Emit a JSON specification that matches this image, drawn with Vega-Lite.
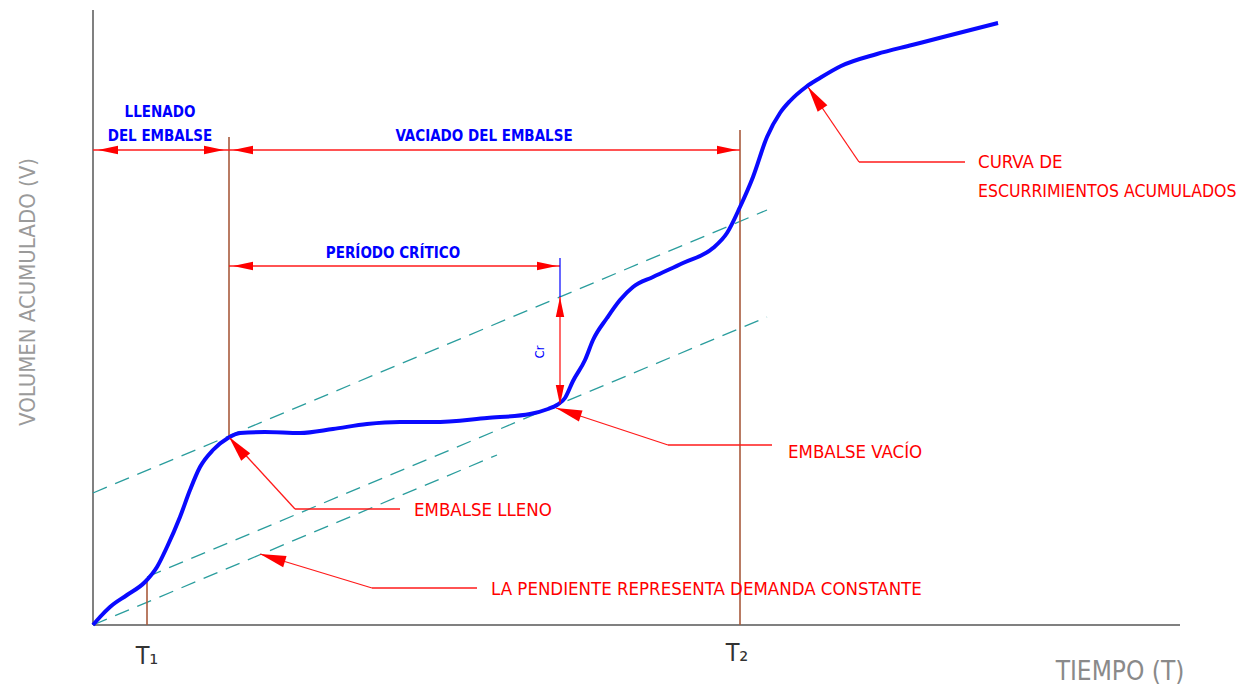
{
  "$schema": "https://vega.github.io/schema/vega-lite/v6.json",
  "width": 1249,
  "height": 692,
  "padding": 0,
  "autosize": "none",
  "background": "white",
  "config": {"view": {"stroke": null}},
  "datasets": {
    "curve": [
      {"t": 0, "v": 0}, {"t": 7, "v": 8}, {"t": 17, "v": 18}, {"t": 34, "v": 30}, {"t": 52, "v": 43},
      {"t": 64, "v": 58}, {"t": 74, "v": 78}, {"t": 87, "v": 108}, {"t": 97, "v": 135}, {"t": 107, "v": 158},
      {"t": 120, "v": 175}, {"t": 135, "v": 187}, {"t": 147, "v": 192}, {"t": 172, "v": 193}, {"t": 207, "v": 192},
      {"t": 240, "v": 196}, {"t": 274, "v": 201}, {"t": 307, "v": 203}, {"t": 340, "v": 203}, {"t": 394, "v": 207},
      {"t": 437, "v": 211}, {"t": 455, "v": 216}, {"t": 464, "v": 220}, {"t": 472, "v": 227}, {"t": 480, "v": 244},
      {"t": 492, "v": 265}, {"t": 500, "v": 285}, {"t": 514, "v": 307}, {"t": 527, "v": 325}, {"t": 540, "v": 338},
      {"t": 560, "v": 348}, {"t": 590, "v": 362}, {"t": 620, "v": 377}, {"t": 634, "v": 392}, {"t": 647, "v": 418},
      {"t": 660, "v": 448}, {"t": 674, "v": 488}, {"t": 687, "v": 512}, {"t": 697, "v": 524}, {"t": 713, "v": 538},
      {"t": 727, "v": 547}, {"t": 748, "v": 559}, {"t": 784, "v": 571}, {"t": 819, "v": 580}, {"t": 854, "v": 589},
      {"t": 905, "v": 602}
    ],
    "demand": [
      {"line": "A", "t": 0, "v": 132}, {"line": "A", "t": 674, "v": 415},
      {"line": "B", "t": 54, "v": 48}, {"line": "B", "t": 674, "v": 308},
      {"line": "C", "t": 0, "v": 0}, {"line": "C", "t": 404, "v": 170}
    ],
    "axesLines": [
      {"t": 0, "v": 0, "t2": 0, "v2": 615},
      {"t": 0, "v": 0, "t2": 1087, "v2": 0}
    ],
    "timeMarks": [
      {"t": 54, "v": 0, "t2": 54, "v2": 45},
      {"t": 136, "v": 188, "t2": 136, "v2": 488},
      {"t": 647, "v": 0, "t2": 647, "v2": 495}
    ],
    "redRules": [
      {"t": 0, "v": 475, "t2": 136, "v2": 475},
      {"t": 136, "v": 475, "t2": 647, "v2": 475},
      {"t": 136, "v": 359, "t2": 467, "v2": 359},
      {"t": 467, "v": 328, "t2": 467, "v2": 220},
      {"t": 136, "v": 188, "t2": 202, "v2": 116},
      {"t": 202, "v": 116, "t2": 307, "v2": 116},
      {"t": 167, "v": 71, "t2": 279, "v2": 37},
      {"t": 279, "v": 37, "t2": 384, "v2": 37},
      {"t": 463, "v": 217, "t2": 575, "v2": 180},
      {"t": 575, "v": 180, "t2": 679, "v2": 180},
      {"t": 715, "v": 538, "t2": 766, "v2": 463},
      {"t": 766, "v": 463, "t2": 872, "v2": 463}
    ],
    "blueRule": [
      {"t": 467, "v": 328, "t2": 467, "v2": 367}
    ],
    "dimArrows": [
      {"t": 5, "v": 475, "dir": 180}, {"t": 131, "v": 475, "dir": 0},
      {"t": 140, "v": 475, "dir": 180}, {"t": 644, "v": 475, "dir": 0},
      {"t": 140, "v": 359, "dir": 180}, {"t": 464, "v": 359, "dir": 0},
      {"t": 467, "v": 328, "dir": 270}, {"t": 467, "v": 220, "dir": 90}
    ],
    "leaderArrows": [
      {"t": 136, "v": 188, "dir": 230},
      {"t": 167, "v": 71, "dir": 197},
      {"t": 463, "v": 217, "dir": 198},
      {"t": 715, "v": 538, "dir": 236}
    ],
    "redText": [
      {"t": 885, "v": 463, "label": "CURVA DE"},
      {"t": 321, "v": 115, "label": "EMBALSE LLENO"},
      {"t": 695, "v": 173, "label": "EMBALSE VACÍO"},
      {"t": 398, "v": 36, "label": "LA PENDIENTE REPRESENTA DEMANDA CONSTANTE"}
    ],
    "redTextLong": [
      {"t": 885, "v": 433, "label": "ESCURRIMIENTOS ACUMULADOS"}
    ],
    "blueText": [
      {"t": 67, "v": 513, "label": "LLENADO"},
      {"t": 67, "v": 489, "label": "DEL EMBALSE"},
      {"t": 391, "v": 489, "label": "VACIADO DEL EMBALSE"},
      {"t": 300, "v": 372, "label": "PERÍODO CRÍTICO"}
    ],
    "crText": [{"t": 447, "v": 273, "label": "Cr"}],
    "tLabels": [
      {"t": 54, "v": -31, "label": "T₁"},
      {"t": 644, "v": -28, "label": "T₂"}
    ],
    "yTitle": [{"t": -65, "v": 333, "label": "VOLUMEN ACUMULADO (V)"}],
    "xTitle": [{"t": 1027, "v": -47, "label": "TIEMPO (T)"}]
  },
  "encoding": {
    "x": {"field": "t", "type": "quantitative", "scale": {"domain": [-93, 1156], "nice": false, "zero": false}, "axis": null},
    "y": {"field": "v", "type": "quantitative", "scale": {"domain": [-67, 625], "nice": false, "zero": false}, "axis": null}
  },
  "layer": [
    {
      "data": {"name": "axesLines"},
      "mark": {"type": "rule", "color": "#808080", "strokeWidth": 2},
      "encoding": {"x2": {"field": "t2"}, "y2": {"field": "v2"}}
    },
    {
      "data": {"name": "demand"},
      "mark": {"type": "line", "color": "#2a9d9d", "strokeWidth": 1.3, "strokeDash": [15, 9]},
      "encoding": {"detail": {"field": "line"}}
    },
    {
      "data": {"name": "timeMarks"},
      "mark": {"type": "rule", "color": "#a85a3c", "strokeWidth": 1.6},
      "encoding": {"x2": {"field": "t2"}, "y2": {"field": "v2"}}
    },
    {
      "data": {"name": "redRules"},
      "mark": {"type": "rule", "color": "#ff1a1a", "strokeWidth": 1.3},
      "encoding": {"x2": {"field": "t2"}, "y2": {"field": "v2"}}
    },
    {
      "data": {"name": "blueRule"},
      "mark": {"type": "rule", "color": "#0000ff", "strokeWidth": 1.2},
      "encoding": {"x2": {"field": "t2"}, "y2": {"field": "v2"}}
    },
    {
      "data": {"name": "curve"},
      "mark": {"type": "line", "color": "#0a0aff", "strokeWidth": 4, "interpolate": "monotone"},
      "encoding": {}
    },
    {
      "data": {"name": "dimArrows"},
      "mark": {"type": "point", "shape": "M0,0L-2,-0.42L-2,0.42Z", "filled": true, "color": "#ff0000", "opacity": 1, "size": 400, "strokeWidth": 0},
      "encoding": {"angle": {"field": "dir", "type": "quantitative", "scale": null}}
    },
    {
      "data": {"name": "leaderArrows"},
      "mark": {"type": "point", "shape": "M0,0L-2,-0.45L-2,0.45Z", "filled": true, "color": "#ff0000", "opacity": 1, "size": 676, "strokeWidth": 0},
      "encoding": {"angle": {"field": "dir", "type": "quantitative", "scale": null}}
    },
    {
      "data": {"name": "redText"},
      "mark": {"type": "text", "align": "left", "baseline": "middle", "color": "#ff0000", "fontSize": 18.5, "font": "DejaVu Sans Condensed, DejaVu Sans, sans-serif"},
      "encoding": {"text": {"field": "label"}}
    },
    {
      "data": {"name": "redTextLong"},
      "mark": {"type": "text", "align": "left", "baseline": "middle", "color": "#ff0000", "fontSize": 17.5, "font": "DejaVu Sans Condensed, DejaVu Sans, sans-serif"},
      "encoding": {"text": {"field": "label"}}
    },
    {
      "data": {"name": "blueText"},
      "mark": {"type": "text", "align": "center", "baseline": "middle", "color": "#0000ff", "fontSize": 15, "fontWeight": "bold", "font": "DejaVu Sans Condensed, DejaVu Sans, sans-serif"},
      "encoding": {"text": {"field": "label"}}
    },
    {
      "data": {"name": "crText"},
      "mark": {"type": "text", "align": "center", "baseline": "middle", "color": "#0000ff", "fontSize": 13, "angle": 270, "font": "DejaVu Sans Condensed, DejaVu Sans, sans-serif"},
      "encoding": {"text": {"field": "label"}}
    },
    {
      "data": {"name": "tLabels"},
      "mark": {"type": "text", "align": "center", "baseline": "middle", "color": "#333333", "fontSize": 25, "font": "DejaVu Sans Condensed, DejaVu Sans, sans-serif"},
      "encoding": {"text": {"field": "label"}}
    },
    {
      "data": {"name": "yTitle"},
      "mark": {"type": "text", "align": "center", "baseline": "middle", "color": "#9a9a9a", "fontSize": 22, "angle": 270, "font": "DejaVu Sans Condensed, DejaVu Sans, sans-serif"},
      "encoding": {"text": {"field": "label"}}
    },
    {
      "data": {"name": "xTitle"},
      "mark": {"type": "text", "align": "center", "baseline": "middle", "color": "#8a8a8a", "fontSize": 26, "font": "DejaVu Sans Condensed, DejaVu Sans, sans-serif"},
      "encoding": {"text": {"field": "label"}}
    }
  ]
}
